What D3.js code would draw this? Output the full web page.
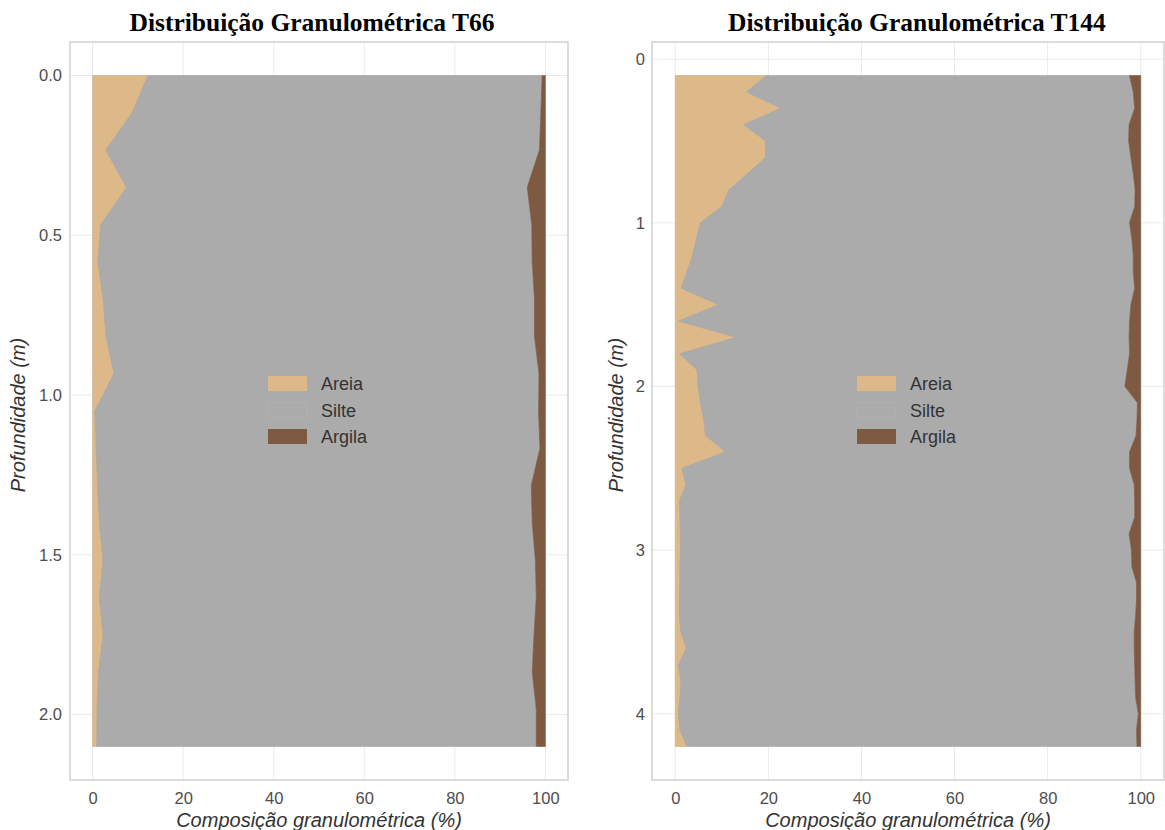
<!DOCTYPE html>
<html>
<head>
<meta charset="utf-8">
<script src="https://cdn.jsdelivr.net/npm/d3@7"></script>
<style>
  html, body { margin: 0; padding: 0; background: #ffffff; }
  svg { display: block; }
</style>
</head>
<body>
<svg id="chart" width="1165" height="830"></svg>
<script>
// ---------------- DATA ----------------
const seriesNames = ["Areia", "Silte", "Argila"];
const xTicks = [0, 20, 40, 60, 80, 100];

// T66
const t66Depth = [0, 0.117, 0.233, 0.35, 0.467, 0.583, 0.7, 0.817, 0.933, 1.05, 1.167, 1.283, 1.4, 1.517, 1.633, 1.75, 1.867, 1.983, 2.1];
const t66Areia = [12.2, 8.7, 2.9, 7.5, 1.8, 1.2, 2.3, 3.0, 4.7, 0.5, 0.8, 1.1, 1.5, 2.3, 1.5, 2.3, 1.3, 1.0, 0.9];
const t66Silte = [87.1, 90.3, 95.8, 88.5, 95.2, 95.9, 95.3, 94.6, 93.9, 98.0, 98.0, 95.8, 95.6, 95.5, 96.5, 95.2, 95.8, 97.0, 97.1];
const t66Argila = [0.7, 1.0, 1.3, 4.0, 3.0, 2.9, 2.4, 2.4, 1.4, 1.5, 1.2, 3.1, 2.9, 2.2, 2.0, 2.5, 2.9, 2.0, 2.0];
const t66YTicks = [0.0, 0.5, 1.0, 1.5, 2.0];
const t66YLabels = ["0.0", "0.5", "1.0", "1.5", "2.0"];

// T144
const t144Depth = [0.1, 0.2, 0.3, 0.4, 0.5, 0.6, 0.7, 0.8, 0.9, 1.0, 1.1, 1.2, 1.3, 1.4, 1.5, 1.6, 1.7, 1.8, 1.9, 2.0, 2.1, 2.2, 2.3, 2.4, 2.5, 2.6, 2.7, 2.8, 2.9, 3.0, 3.1, 3.2, 3.3, 3.4, 3.5, 3.6, 3.7, 3.8, 3.9, 4.0, 4.1, 4.2];
const t144Areia = [19.6, 15.3, 22.7, 14.7, 19.4, 19.4, 15.5, 11.5, 10.0, 5.4, 4.5, 3.7, 2.5, 1.3, 9.3, 0.7, 13.1, 0.9, 4.7, 4.9, 5.4, 6.1, 6.5, 10.8, 1.4, 2.3, 0.9, 1.0, 1.1, 1.1, 1.0, 1.0, 0.9, 0.9, 1.2, 2.4, 0.7, 1.2, 1.0, 0.7, 1.0, 2.5];
const t144Silte = [78.0, 83.1, 76.0, 82.8, 78.0, 78.5, 82.9, 87.3, 88.7, 92.2, 93.6, 94.7, 95.9, 97.4, 88.6, 96.9, 84.4, 96.7, 92.4, 91.7, 93.9, 93.1, 92.5, 86.8, 96.2, 96.3, 97.8, 97.7, 96.4, 96.9, 97.1, 98.1, 98.2, 98.0, 97.4, 96.2, 98.0, 97.6, 97.9, 98.8, 98.1, 96.7];
const t144Argila = [2.4, 1.6, 1.3, 2.5, 2.6, 2.1, 1.6, 1.2, 1.3, 2.4, 1.9, 1.6, 1.6, 1.3, 2.1, 2.4, 2.5, 2.4, 2.9, 3.4, 0.7, 0.8, 1.0, 2.4, 2.4, 1.4, 1.3, 1.3, 2.5, 2.0, 1.9, 0.9, 0.9, 1.1, 1.4, 1.4, 1.3, 1.2, 1.1, 0.5, 0.9, 0.8];
const t144YTicks = [0, 1, 2, 3, 4];
const t144YLabels = ["0", "1", "2", "3", "4"];

// ---------------- STYLE ----------------
const colors = { Areia: "#DDB98A", Silte: "#ABABAB", Argila: "#7F5A43" };
const svg = d3.select("#chart");

function panel(opts) {
  const { depth, areia, silte, argila, yTicks, yLabels, title, left, right, top, bottom, titleX, yLabelX, yTitleX } = opts;
  const rows = depth.map((d, i) => ({ depth: d, areia: areia[i], silte: silte[i], argila: argila[i] }));

  const dMin = d3.min(depth), dMax = d3.max(depth), pad = (dMax - dMin) * 0.05;
  const x = d3.scaleLinear().domain([-5, 105]).range([left, right]);
  const y = d3.scaleLinear().domain([dMin - pad, dMax + pad]).range([top, bottom]);

  const g = svg.append("g");

  // gridlines
  g.append("g").selectAll("line").data(xTicks).join("line")
    .attr("x1", d => x(d)).attr("x2", d => x(d))
    .attr("y1", top).attr("y2", bottom)
    .attr("stroke", "#ebebeb").attr("stroke-width", 1);
  g.append("g").selectAll("line").data(yTicks).join("line")
    .attr("x1", left).attr("x2", right)
    .attr("y1", d => y(d)).attr("y2", d => y(d))
    .attr("stroke", "#ebebeb").attr("stroke-width", 1);

  // stacked areas
  const areaAreia = d3.area().y(d => y(d.depth)).x0(x(0)).x1(d => x(d.areia));
  const areaSilte = d3.area().y(d => y(d.depth)).x0(d => x(d.areia)).x1(d => x(d.areia + d.silte));
  const areaArgila = d3.area().y(d => y(d.depth)).x0(d => x(d.areia + d.silte)).x1(d => x(d.areia + d.silte + d.argila));

  g.append("path").datum(rows).attr("d", areaAreia).attr("fill", colors.Areia)
    .attr("stroke", "#cfae84").attr("stroke-width", 0.6);
  g.append("path").datum(rows).attr("d", areaSilte).attr("fill", colors.Silte)
    .attr("stroke", "#a2a2a2").attr("stroke-width", 0.6);
  g.append("path").datum(rows).attr("d", areaArgila).attr("fill", colors.Argila)
    .attr("stroke", "#7a5640").attr("stroke-width", 0.6);

  // panel border
  g.append("rect").attr("x", left).attr("y", top)
    .attr("width", right - left).attr("height", bottom - top)
    .attr("fill", "none").attr("stroke", "#d4d4d4").attr("stroke-width", 1.6);

  // x axis labels
  const xAxis = d3.axisBottom(x).tickValues(xTicks).tickSize(0).tickPadding(12);
  const gx = g.append("g").attr("transform", `translate(0,${bottom})`).call(xAxis);
  gx.select(".domain").remove();
  gx.selectAll("text").attr("font-family", "Liberation Sans, Arial, sans-serif")
    .attr("font-size", 16.5).attr("fill", "#4d4d4d");

  // y axis labels
  const yAxis = d3.axisLeft(y).tickValues(yTicks).tickFormat((d, i) => yLabels[i]).tickSize(0).tickPadding(left - yLabelX);
  const gy = g.append("g").attr("transform", `translate(${left},0)`).call(yAxis);
  gy.select(".domain").remove();
  gy.selectAll("text").attr("font-family", "Liberation Sans, Arial, sans-serif")
    .attr("font-size", 16.5).attr("fill", "#4d4d4d");

  // axis titles
  g.append("text").attr("x", (left + right) / 2).attr("y", 827)
    .attr("text-anchor", "middle").attr("font-family", "Liberation Sans, Arial, sans-serif")
    .attr("font-style", "italic").attr("font-size", 20).attr("fill", "#333333")
    .text("Composição granulométrica (%)");
  g.append("text").attr("transform", `translate(${yTitleX},${(top + bottom) / 2 + 4}) rotate(-90)`)
    .attr("text-anchor", "middle").attr("font-family", "Liberation Sans, Arial, sans-serif")
    .attr("font-style", "italic").attr("font-size", 20).attr("fill", "#333333")
    .text("Profundidade (m)");

  // title
  g.append("text").attr("x", titleX).attr("y", 31)
    .attr("text-anchor", "middle").attr("font-family", "Liberation Serif, Times New Roman, serif")
    .attr("font-weight", "bold").attr("font-size", 25.5).attr("fill", "#000000")
    .text(title);

  // legend (centered in panel)
  const cx = (left + right) / 2, cy = (top + bottom) / 2;
  const lg = g.append("g").attr("transform", `translate(${cx - 51},${cy - 35})`);
  seriesNames.forEach((name, i) => {
    lg.append("rect").attr("x", 0).attr("y", i * 26.5).attr("width", 39).attr("height", 15)
      .attr("fill", colors[name]).attr("stroke", name === "Silte" ? "#b0b0b0" : "none");
    lg.append("text").attr("x", 53).attr("y", i * 26.5 + 14)
      .attr("font-family", "Liberation Sans, Arial, sans-serif")
      .attr("font-size", 18).attr("fill", "#333333").text(name);
  });
}

panel({
  depth: t66Depth, areia: t66Areia, silte: t66Silte, argila: t66Argila,
  yTicks: t66YTicks, yLabels: t66YLabels,
  title: "Distribuição Granulométrica T66",
  left: 70, right: 568, top: 42, bottom: 780, titleX: 312, yLabelX: 62, yTitleX: 25
});
panel({
  depth: t144Depth, areia: t144Areia, silte: t144Silte, argila: t144Argila,
  yTicks: t144YTicks, yLabels: t144YLabels,
  title: "Distribuição Granulométrica T144",
  left: 652, right: 1164, top: 42, bottom: 780, titleX: 917, yLabelX: 645, yTitleX: 623
});
</script>
</body>
</html>
